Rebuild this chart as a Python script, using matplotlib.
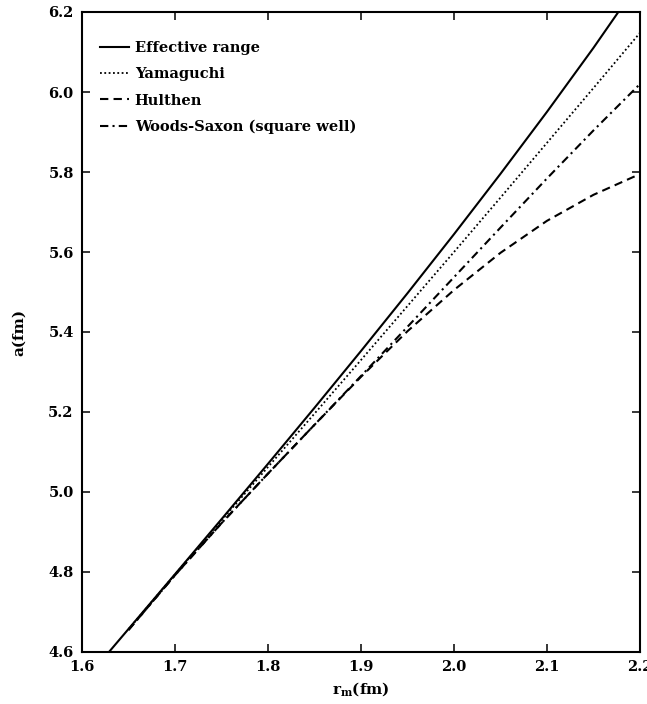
import matplotlib
matplotlib.use("Agg")
import matplotlib.pyplot as plt

# values
r_eff = [1.629, 1.65, 1.70, 1.75, 1.80, 1.85, 1.90, 1.95, 2.00, 2.05, 2.10, 2.15, 2.178]
a_eff = [4.600, 4.6575, 4.7945, 4.932, 5.0705, 5.2105, 5.3525, 5.497, 5.6445, 5.7955,
         5.9505, 6.1105, 6.2043]

r_m = [1.65, 1.70, 1.75, 1.80, 1.85, 1.90, 1.95, 2.00, 2.05, 2.10, 2.15, 2.20]
a_yam = [4.657, 4.794, 4.929, 5.0625, 5.196, 5.330, 5.465, 5.600, 5.736, 5.873, 6.010, 6.148]
a_hul = [4.655, 4.792, 4.922, 5.046, 5.168, 5.288, 5.402, 5.505, 5.598, 5.678, 5.743, 5.795]
a_ws = [4.655, 4.792, 4.922, 5.046, 5.168, 5.290, 5.413, 5.537, 5.661, 5.784, 5.904, 6.020]

xticks = [1.6, 1.7, 1.8, 1.9, 2.0, 2.1, 2.2]
yticks = [4.6, 4.8, 5.0, 5.2, 5.4, 5.6, 5.8, 6.0, 6.2]

plt.rcParams['font.family'] = 'DejaVu Serif'
plt.rcParams['font.weight'] = 'bold'
plt.rcParams['mathtext.fontset'] = 'dejavuserif'

fig = plt.figure(figsize=(6.47, 7.04), dpi=100)
ax = fig.add_axes([82 / 647, 1 - 652 / 704, 558 / 647, 640 / 704])

ax.plot(r_eff, a_eff, color='black', lw=1.5, ls='-', label='Effective range')
ax.plot(r_m, a_yam, color='black', lw=1.3, ls=(0, (1, 1.4)), label='Yamaguchi')
ax.plot(r_m, a_hul, color='black', lw=1.5, ls=(0, (4, 2.5)), label='Hulthen')
ax.plot(r_m, a_ws, color='black', lw=1.5, ls=(0, (4, 2, 1, 2)),
        label='Woods-Saxon (square well)')

ax.set_xlim(1.6, 2.2)
ax.set_ylim(4.6, 6.2)
ax.set_xticks(xticks)
ax.set_yticks(yticks)
ax.set_xticklabels(['%.1f' % v for v in xticks], fontweight='bold')
ax.set_yticklabels(['%.1f' % v for v in yticks], fontweight='bold')
ax.tick_params(direction='in', length=6, width=1.1, top=True, right=True,
               labelsize=10.5, pad=6)
for s in ax.spines.values():
    s.set_linewidth(1.5)

ax.set_xlabel(r'$\mathbf{r_m}$(fm)', fontsize=11, fontweight='bold', labelpad=4)
ax.set_ylabel('a(fm)', fontsize=11, fontweight='bold', labelpad=16)

leg = ax.legend(loc='upper left', bbox_to_anchor=(0.032, 0.955), frameon=False,
                fontsize=10.5, handlelength=2.0, handletextpad=0.4,
                labelspacing=0.85, borderaxespad=0, borderpad=0)
for t in leg.get_texts():
    t.set_fontweight('bold')

fig.savefig('out.png', dpi=100)
